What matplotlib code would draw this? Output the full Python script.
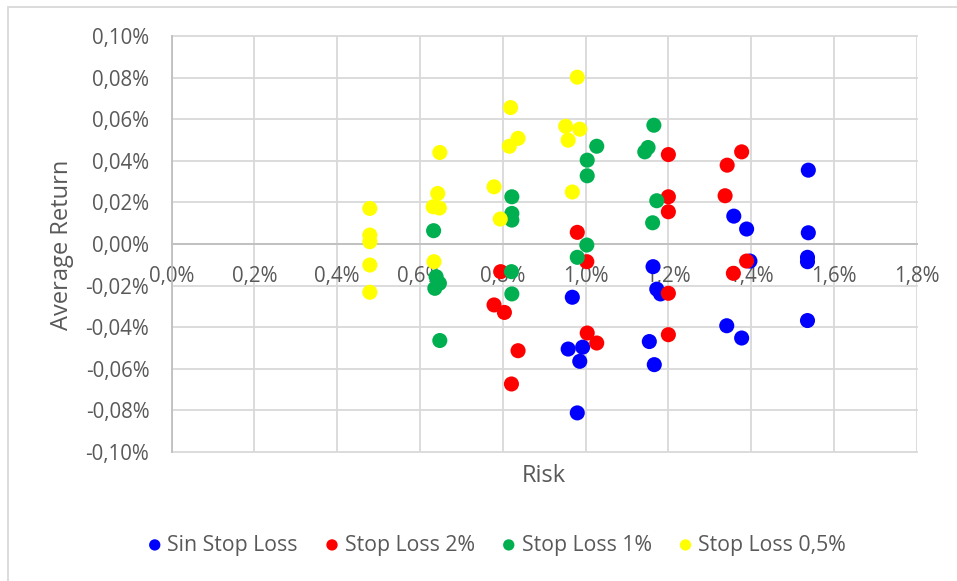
import matplotlib
matplotlib.use("Agg")
import matplotlib.pyplot as plt
from matplotlib.patches import Rectangle
from matplotlib.ticker import FuncFormatter, MultipleLocator

# Risk (x, %) and average return (y, %) per strategy
sin_stop_risk = [1.163, 1.172, 1.181, 0.968, 0.958, 0.993, 0.986, 1.154, 1.166, 0.980,
                 1.341, 1.377, 1.536, 1.536, 1.536, 1.397, 1.538, 1.538, 1.358, 1.389]
sin_stop_ret = [-0.0109, -0.0217, -0.0240, -0.0256, -0.0505, -0.0496, -0.0564, -0.0469, -0.0580, -0.0812,
                -0.0393, -0.0452, -0.0368, -0.0064, -0.0085, -0.0082, 0.0355, 0.0054, 0.0134, 0.0072]

sl2_risk = [1.200, 1.200, 1.200, 0.980, 1.003, 0.795, 0.779, 0.804, 0.837, 0.821,
            1.004, 1.027, 1.200, 1.200, 1.377, 1.342, 1.337, 1.389, 1.357]
sl2_ret = [0.0430, 0.0227, 0.0155, 0.0056, -0.0085, -0.0133, -0.0293, -0.0329, -0.0513, -0.0673,
           -0.0428, -0.0476, -0.0237, -0.0436, 0.0443, 0.0379, 0.0232, -0.0082, -0.0141]

sl1_risk = [1.165, 1.151, 1.143, 1.027, 1.004, 1.004, 1.172, 1.162, 0.822, 0.822,
            0.822, 0.633, 1.003, 0.980, 0.821, 0.639, 0.647, 0.636, 0.822, 0.648]
sl1_ret = [0.0571, 0.0464, 0.0443, 0.0470, 0.0403, 0.0328, 0.0208, 0.0102, 0.0227, 0.0147,
           0.0115, 0.0064, -0.0005, -0.0064, -0.0133, -0.0157, -0.0189, -0.0213, -0.0240, -0.0464]

sl05_risk = [0.479, 0.479, 0.479, 0.479, 0.479, 0.634, 0.632, 0.647, 0.643, 0.648,
             0.779, 0.794, 0.816, 0.819, 0.837, 0.952, 0.958, 0.968, 0.980, 0.986]
sl05_ret = [0.0171, 0.0043, 0.0011, -0.0101, -0.0232, -0.0085, 0.0179, 0.0173, 0.0243, 0.0440,
            0.0275, 0.0120, 0.0470, 0.0656, 0.0508, 0.0566, 0.0499, 0.0250, 0.0802, 0.0552]

series_names = ["Sin Stop Loss", "Stop Loss 2%", "Stop Loss 1%", "Stop Loss 0,5%"]
series_colors = ["#0000FF", "#FF0000", "#00B050", "#FFFF00"]

x_label = "Risk"
y_label = "Average Return"

plt.rcParams["font.family"] = ["Open Sans", "DejaVu Sans"]
text_color = "#595959"
grid_color = "#D9D9D9"
axis_color = "#BFBFBF"

fig = plt.figure(figsize=(9.57, 5.81), dpi=100)
fig.patches.append(Rectangle((8.3 / 957, -0.05), 1.1, 1.05 - 6.7 / 581,
                             transform=fig.transFigure, fill=False,
                             edgecolor=grid_color, linewidth=1.3))

ax = fig.add_axes([171.5 / 957, 1 - 452 / 581, (916.8 - 171.5) / 957, (452 - 36) / 581])

data = [(sin_stop_risk, sin_stop_ret), (sl2_risk, sl2_ret), (sl1_risk, sl1_ret), (sl05_risk, sl05_ret)]
for (xs, ys), name, color in zip(data, series_names, series_colors):
    ax.scatter(xs, ys, s=118, color=color, edgecolors="none", label=name, zorder=3, clip_on=False)

ax.set_xlim(0, 1.8)
ax.set_ylim(-0.10, 0.10)
ax.xaxis.set_major_locator(MultipleLocator(0.2))
ax.yaxis.set_major_locator(MultipleLocator(0.02))
ax.xaxis.set_major_formatter(FuncFormatter(lambda v, p: f"{v:.1f}%".replace(".", ",")))
ax.yaxis.set_major_formatter(FuncFormatter(lambda v, p: f"{v:.2f}%".replace(".", ",").replace("-0,00", "0,00")))

ax.grid(True, color=grid_color, linewidth=1.3, zorder=0)
for gl in ax.get_xgridlines() + ax.get_ygridlines():
    gl.set_clip_on(False)
ax.set_axisbelow(True)

for side in ["top", "right"]:
    ax.spines[side].set_visible(False)
ax.spines["bottom"].set_position(("data", 0))
ax.spines["bottom"].set_color(axis_color)
ax.spines["bottom"].set_linewidth(1.3)
ax.spines["left"].set_color(axis_color)
ax.spines["left"].set_linewidth(1.3)

ax.tick_params(axis="both", length=0, labelsize=14.8, labelcolor=text_color)
ax.tick_params(axis="y", pad=16)
ax.tick_params(axis="x", pad=16)

fig.text(62 / 957, 1 - 245 / 581, y_label, rotation=90, ha="center", va="center",
         fontsize=17, color=text_color)
fig.text(544 / 957, 1 - 476 / 581, x_label, ha="center", va="center",
         fontsize=17, color=text_color)

leg = fig.legend(loc="center", bbox_to_anchor=(494 / 957, 1 - 545 / 581), ncol=4,
                 frameon=False, fontsize=15.3, labelcolor=text_color,
                 handletextpad=0.0, columnspacing=1.0, markerscale=0.75, handlelength=1.2)

fig.savefig("out.png", dpi=100, facecolor="white")
